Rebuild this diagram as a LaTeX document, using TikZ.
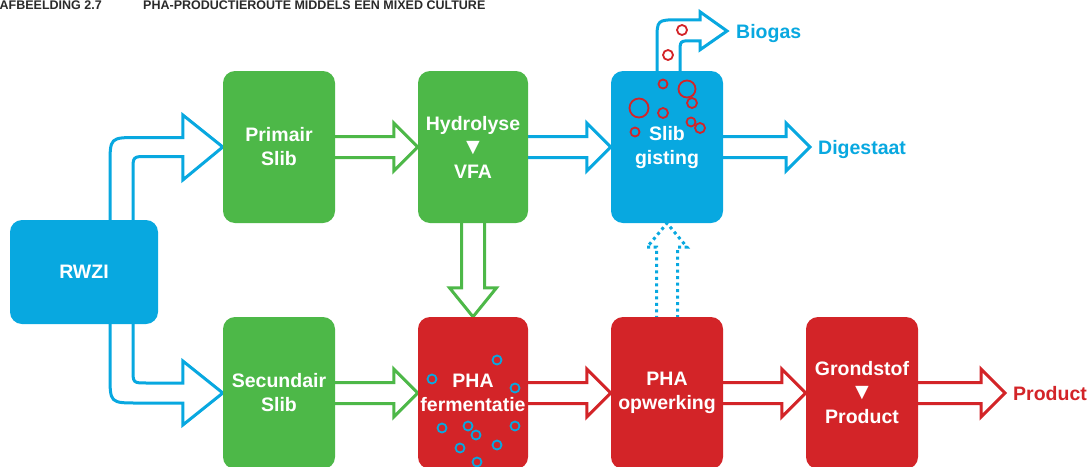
\documentclass[tikz,border=0pt]{standalone}
\usepackage{fontspec}
\setmainfont{Liberation Sans}
\usetikzlibrary{calc}
\definecolor{cblue}{HTML}{08A8E0}
\definecolor{cgreen}{HTML}{4DB848}
\definecolor{cred}{HTML}{D32428}
\definecolor{ctitle}{HTML}{2A2A2A}
\newcommand\boxfont{\fontsize{19.5}{24}\selectfont\bfseries}
\newcommand\tri{{\fontsize{23}{24}\selectfont ▼}}
\newcommand\harrow[3]{%
  \draw[hollow=#1] ($(#2)+(-4,-10.5)$) -- ($(#3)+(-24,-10.5)$) -- ($(#3)+(-24,-24)$) -- (#3)
    -- ($(#3)+(-24,24)$) -- ($(#3)+(-24,10.5)$) -- ($(#2)+(-4,10.5)$) -- cycle;}
\tikzset{
  box/.style={fill=#1, rounded corners=12pt, minimum width=112pt, minimum height=152pt,
    text=white, font=\boxfont, align=center, inner sep=0pt},
  hollow/.style={draw=#1, fill=white, line width=3pt, line join=miter},
  lbl/.style={text=#1, font=\fontsize{19.5}{24}\selectfont\bfseries, inner sep=0pt,
    text height=14pt, text depth=0pt, anchor=west},
  bub/.style={draw=#1, line width=1.8pt},
  ttl/.style={text=ctitle, font=\fontsize{12.5}{14}\selectfont\bfseries, inner sep=0pt},
}
\begin{document}
\begin{tikzpicture}[x=1pt,y=-1pt]
\clip (0,0) rectangle (1089,466);
\fill[white] (0,0) rectangle (1089,466);
% title
\node[ttl, anchor=base east] (t1) at (102,9.5) {AFBEELDING 2.7};
\node[ttl, anchor=base west] (t2) at (143,9.5) {PHA-PRODUCTIEROUTE MIDDELS EEN MIXED CULTURE};
% node positions
\path (84,272) node[box=cblue, minimum width=148pt, minimum height=104pt, opacity=0] (rw) {}
      (279,147) node[box=cgreen, opacity=0] (prim) {}
      (473,147) node[box=cgreen, minimum width=110pt, opacity=0] (hyd) {}
      (667,147) node[box=cblue, opacity=0] (sg) {}
      (279,393) node[box=cgreen, opacity=0] (sec) {}
      (473,393) node[box=cred, minimum width=110pt, opacity=0] (phaf) {}
      (667,393) node[box=cred, opacity=0] (phao) {}
      (862,393) node[box=cred, opacity=0] (gp) {};
% labels
\node[lbl=cblue] (bl) at (736,31) {Biogas};
\node[lbl=cblue] (dl) at (818,147) {Digestaat};
\node[lbl=cred] (pl) at (1013,393) {Product};
\coordinate (btip) at ($(bl.west)+(-9,0)$);
\coordinate (dtip) at ($(dl.west)+(-8,0)$);
\coordinate (ptip) at ($(pl.west)+(-8,0)$);
% RWZI arrows
\coordinate (ua) at ($(rw.north)+(26,2)$);
\coordinate (ub) at ($(rw.north)+(49,2)$);
\coordinate (uh) at ($(prim.west)+(-40,0)$);
\draw[hollow=cblue] (ua) -- ($(ua|-uh)+(0,18.5)$) .. controls ($(ua|-uh)+(0,-9.5)$) .. ($(ua|-uh)+(28,-9.5)$)
  -- ($(uh)+(0,-9.5)$) -- ($(uh)+(0,-32)$) -- (prim.west) -- ($(uh)+(0,33)$) -- ($(uh)+(0,9.5)$)
  -- ($(ub|-uh)+(14,9.5)$) .. controls ($(ub|-uh)+(0,9.5)$) .. ($(ub|-uh)+(0,23.5)$) -- (ub) -- cycle;
\coordinate (la) at ($(rw.south)+(26,-2)$);
\coordinate (lb) at ($(rw.south)+(49,-2)$);
\coordinate (lh) at ($(sec.west)+(-40,0)$);
\draw[hollow=cblue] (la) -- ($(la|-lh)+(0,-18.5)$) .. controls ($(la|-lh)+(0,10)$) .. ($(la|-lh)+(28,10)$)
  -- ($(lh)+(0,10)$) -- ($(lh)+(0,32)$) -- (sec.west) -- ($(lh)+(0,-32)$) -- ($(lh)+(0,-10)$)
  -- ($(lb|-lh)+(14,-10)$) .. controls ($(lb|-lh)+(0,-10)$) .. ($(lb|-lh)+(0,-24)$) -- (lb) -- cycle;
% straight arrows
\harrow{cgreen}{prim.east}{hyd.west}
\harrow{cblue}{hyd.east}{sg.west}
\harrow{cblue}{sg.east}{dtip}
\harrow{cgreen}{sec.east}{phaf.west}
\harrow{cred}{phaf.east}{phao.west}
\harrow{cred}{phao.east}{gp.west}
\harrow{cred}{gp.east}{ptip}
% vertical green arrow
\draw[hollow=cgreen] ($(hyd.south)+(-11.5,-4)$) -- ($(phaf.north)+(-11.5,-29)$) -- ($(phaf.north)+(-23.5,-29)$)
  -- (phaf.north) -- ($(phaf.north)+(23.5,-29)$) -- ($(phaf.north)+(11.5,-29)$) -- ($(hyd.south)+(11.5,-4)$) -- cycle;
% dotted blue arrow
\draw[cblue, line width=3pt, dash pattern=on 3pt off 3.5pt] ($(phao.north)+(-10.5,2)$) -- ($(sg.south)+(-10.5,24)$)
  -- ($(sg.south)+(-20,24)$) -- (sg.south) -- ($(sg.south)+(20,24)$) -- ($(sg.south)+(10.5,24)$) -- ($(phao.north)+(10.5,2)$);
% biogas pipe
\draw[hollow=cblue] ($(sg.north)+(-10,4)$) -- ($(sg.north)+(-10,-30)$) .. controls ($(sg.north)+(-10,-51)$) .. ($(sg.north)+(12,-51)$)
  -- ($(sg.north)+(33,-51)$) -- ($(sg.north)+(33,-59)$) -- (btip) -- ($(sg.north)+(33,-21)$) -- ($(sg.north)+(33,-30)$)
  -- ($(sg.north)+(25,-30)$) .. controls ($(sg.north)+(13,-30)$) .. ($(sg.north)+(13,-18)$) -- ($(sg.north)+(13,4)$) -- cycle;
% boxes
\node[box=cblue, minimum width=148pt, minimum height=104pt] at (rw) {RWZI};
\node[box=cgreen] at (prim) {Primair\\Slib};
\node[box=cgreen, minimum width=110pt] at (hyd) {Hydrolyse\\\tri\\VFA};
\node[box=cblue] at (sg) {};
\node[box=cgreen] at (sec) {Secundair\\Slib};
\node[box=cred, minimum width=110pt] at (phaf) {};
\node[box=cred] at (phao) {PHA\\opwerking};
\node[box=cred] at (gp) {Grondstof\\\tri\\Product};
% bubbles
\foreach \x/\y/\r in {682/30/5, 668/55/5, 663/84/4.5, 687/89/8.5, 639/108/9.5, 663/113/5, 692/103/5, 691/122/4.5, 700/128/5, 635/132/4.5}
  \draw[bub=cred] (\x,\y) circle (\r);
\foreach \x/\y in {497/360, 432/379, 515/388, 515/426, 442/428, 468/426, 476/435, 497/445, 460/448, 477/462}
  \draw[bub=cblue] (\x,\y) circle (4.5);
\node[text=white, font=\boxfont, align=center, inner sep=0pt] at (sg) {Slib\\gisting};
\node[text=white, font=\boxfont, align=center, inner sep=0pt] at (phaf) {PHA\\fermentatie};
\end{tikzpicture}
\end{document}
